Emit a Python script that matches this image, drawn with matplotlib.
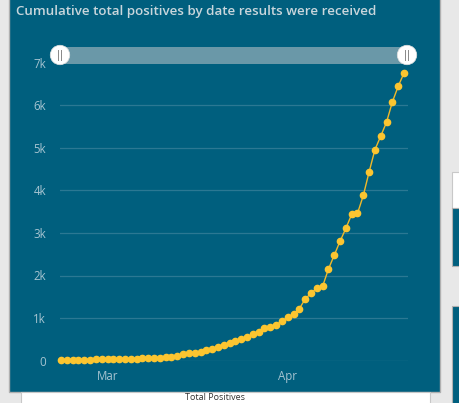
import matplotlib.pyplot as plt
import matplotlib.dates as mdates
from matplotlib.patches import Rectangle, Ellipse
import datetime as dt

# cumulative total positives, one value per day from Feb 22 2020
start = dt.date(2020, 2, 22)
positives = [5, 8, 10, 12, 15, 22, 30, 32, 33, 35, 36, 38, 40, 45, 60, 63, 66, 70, 78,
             86, 109, 142, 165, 179, 202, 242, 272, 319, 365, 412, 458, 498, 544, 621,
             667, 760, 800, 847, 923, 1016, 1086, 1219,
             1447, 1581, 1705, 1745, 2150, 2478, 2806, 3110, 3438, 3461, 3883,
             4438, 4960, 5281, 5609, 6084, 6452, 6764]
dates = [start + dt.timedelta(days=i) for i in range(len(positives))]

title = "Cumulative total positives by date results were received"
y_ticks = [0, 1000, 2000, 3000, 4000, 5000, 6000, 7000]
y_labels = ["0", "1k", "2k", "3k", "4k", "5k", "6k", "7k"]

W, H = 460, 403
teal = "#005f7e"
fig = plt.figure(figsize=(W / 100, H / 100), dpi=100)
fig.patch.set_facecolor("#e8e8e8")

def px(x0, y0, w, h, z=-1, **kw):
    # rectangle in pixel coords (top-left origin)
    r = Rectangle((x0 / W, 1 - (y0 + h) / H), w / W, h / H, transform=fig.transFigure,
                  zorder=z, **kw)
    fig.patches.append(r)

# panels
px(9.5, -2, 431, 394, facecolor=teal, edgecolor="#b0b0b0", linewidth=1)
px(21, 392, 409, 20, facecolor="white", edgecolor="#c8c8c8", linewidth=0.8)
px(452, 172, 20, 36, facecolor="white", edgecolor="#c8c8c8", linewidth=0.8)
px(452, 208, 20, 58, facecolor=teal, edgecolor="#b0b0b0", linewidth=0.8)
px(452, 306, 20, 120, facecolor=teal, edgecolor="#b0b0b0", linewidth=0.8)

fig.text(16 / W, 1 - 12 / H, title, color="#c9d6dc", fontsize=9.6, fontweight="semibold",
         family="Open Sans", va="center", ha="left")
fig.text(215 / W, 1 - 402.5 / H, "Total Positives", color="#333333", fontsize=6.5,
         family="Open Sans", va="bottom", ha="center")

# axes
ax_l, ax_r, ax_b, ax_t = 60, 408, 360.5, 63
ax = fig.add_axes([ax_l / W, 1 - ax_b / H, (ax_r - ax_l) / W, (ax_b - ax_t) / H])
ax.set_facecolor("none")
d0 = mdates.date2num(dates[0])
d1 = mdates.date2num(dates[-1])
dpp = (d1 - d0) / 343.0
ax.set_xlim(d0 - 1 * dpp, d1 + 4 * dpp)
ax.set_ylim(0, 7000)

for v in y_ticks[:-1]:
    ax.axhline(v, color="#2b7893", linewidth=0.9, zorder=1)

ax.plot(dates, positives, color="#f2b929", linewidth=1, marker="o", markersize=4.5,
        markerfacecolor="#fcc530", markeredgecolor="#fcc530", clip_on=False, zorder=3)

ax.set_yticks(y_ticks)
ax.set_yticklabels(y_labels)
ax.set_xticks([mdates.date2num(dt.date(2020, 3, 1)), mdates.date2num(dt.date(2020, 4, 1))])
ax.set_xticklabels(["Mar", "Apr"])
ax.tick_params(length=0, colors="#a6c4d1", labelsize=8.3)
ax.tick_params(axis="y", pad=10)
ax.tick_params(axis="x", pad=7)
for lbl in ax.get_xticklabels() + ax.get_yticklabels():
    lbl.set_family("Open Sans")
for s in ax.spines.values():
    s.set_visible(False)

# range slider across the top
px(60, 47, 347, 17, z=2, facecolor="#6a98a8", edgecolor="none")
for cx in [60, 407]:
    c = Ellipse((cx / W, 1 - 55 / H), 19.5 / W, 19.5 / H, transform=fig.transFigure,
                facecolor="white", edgecolor="#dddddd", linewidth=0.5, zorder=5)
    fig.patches.append(c)
    for dx in [-1.5, 1.5]:
        fig.lines.append(plt.Line2D([(cx + dx) / W] * 2, [1 - 50 / H, 1 - 60 / H],
                                    transform=fig.transFigure, color="#888888",
                                    linewidth=0.7, zorder=6))

fig.savefig("out.png", dpi=100, facecolor=fig.get_facecolor())
